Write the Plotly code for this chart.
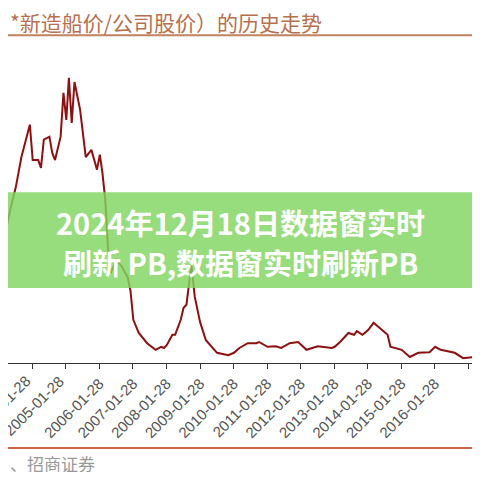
import plotly.graph_objects as go

dates = ["2003-02","2003-04","2003-06","2003-08","2003-10","2004-01","2004-02","2004-04","2004-05","2004-06",
         "2004-08","2004-09","2004-10","2004-12","2005-01","2005-02","2005-03","2005-04","2005-05","2005-07",
         "2005-09","2005-11","2006-01","2006-02","2006-03","2006-04","2006-05","2006-06","2006-08","2006-10",
         "2006-12","2007-01","2007-02","2007-04","2007-07","2007-10","2007-12","2008-01","2008-02","2008-04",
         "2008-05","2008-07","2008-08","2008-09","2008-10-25","2008-12-01","2009-01-28","2009-04","2009-08","2009-12",
         "2010-02","2010-04","2010-07","2010-10","2010-11","2011-02","2011-05","2011-07","2011-10","2012-01",
         "2012-04","2012-08","2013-01","2013-02","2013-04","2013-07","2013-09","2013-10","2013-12","2014-02",
         "2014-04","2014-05","2014-09","2014-10","2015-02","2015-05","2015-08","2015-12","2016-02","2016-04",
         "2016-09","2016-12","2017-04","2017-06"]
values = [1.50,2.10,2.55,2.93,3.43,3.97,3.38,3.38,3.25,3.72,
          3.77,3.50,3.38,3.77,4.50,4.05,4.75,4.00,4.68,4.22,
          3.43,3.55,3.22,3.47,3.17,2.72,1.93,1.50,1.72,1.60,
          1.43,1.20,0.72,0.50,0.33,0.22,0.27,0.25,0.30,0.47,
          0.47,0.72,0.92,0.97,1.63,1.10,0.68,0.38,0.17,0.13,
          0.17,0.25,0.33,0.33,0.35,0.27,0.28,0.25,0.33,0.35,
          0.22,0.28,0.25,0.27,0.35,0.50,0.47,0.53,0.47,0.55,
          0.67,0.63,0.47,0.27,0.22,0.10,0.17,0.18,0.27,0.22,
          0.17,0.08,0.10,0.13]

edge_ticks = ["2004-01-28", "2005-01-28"]

title_text = "*新造船价/公司股价）的历史走势"
source_text = "、招商证券"
banner_lines = ["2024年12月18日数据窗实时", "刷新 PB,数据窗实时刷新PB"]

fig = go.Figure(go.Scatter(x=dates, y=values, mode="lines",
                           line=dict(color="#8e1010", width=2)))

fig.update_layout(
    width=464, height=464, margin=dict(l=0, r=0, t=32, b=109),
    paper_bgcolor="white", plot_bgcolor="white", showlegend=False,
    font=dict(family="Noto Sans CJK SC"),
    xaxis=dict(range=["2003-05-08", "2017-03-08"], tick0="2004-01-28", dtick="M12",
               tickformat="%Y-%m-%d", tickangle=-45, ticks="outside", ticklen=5,
               tickcolor="#333", showline=True, linecolor="#333", showgrid=False,
               tickfont=dict(size=15, color="#555", family="Liberation Sans")),
    yaxis=dict(range=[0, 5.38], visible=False),
)

for d in edge_ticks:
    fig.add_annotation(text=d, xref="x", yref="paper", x=d, y=0, textangle=-45,
                       xanchor="right", yanchor="top", yshift=-6, xshift=4, showarrow=False,
                       font=dict(size=15, color="#555", family="Liberation Sans"))

fig.add_shape(type="line", xref="paper", yref="paper", x0=0, x1=1, y0=1.015, y1=1.015,
              line=dict(color="#c0825f", width=2))
fig.add_annotation(text=title_text, xref="paper", yref="paper", x=0, y=1.056,
                   xanchor="left", yanchor="middle", showarrow=False,
                   font=dict(size=21, color="#b8704f"))
fig.add_shape(type="line", xref="paper", yref="paper", x0=0, x1=1, y0=-0.263, y1=-0.263,
              line=dict(color="#d2604a", width=2))
fig.add_annotation(text=source_text, xref="paper", yref="paper", x=0.0, y=-0.31,
                   xanchor="left", yanchor="middle", showarrow=False,
                   font=dict(size=17, color="#999"))
fig.add_shape(type="rect", xref="paper", yref="paper", x0=0, x1=1, y0=0.232, y1=0.529,
              fillcolor="rgba(128,214,96,0.82)", line=dict(width=0), layer="above")
for i, t in enumerate(banner_lines):
    fig.add_annotation(text="<b>" + t + "</b>", xref="paper", yref="paper", x=0.5,
                       y=[0.437, 0.313][i], xanchor="center", yanchor="middle",
                       showarrow=False, font=dict(size=29, color="white"))

fig.write_html("out.html")
